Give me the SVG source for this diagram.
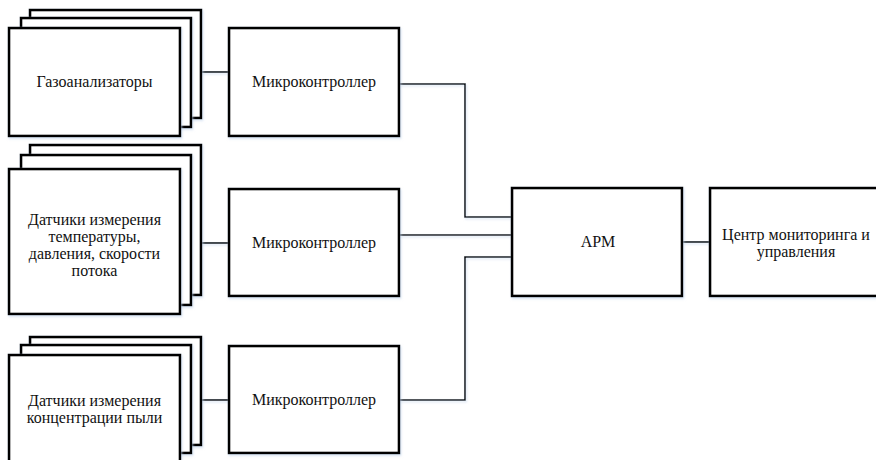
<svg xmlns="http://www.w3.org/2000/svg" width="876" height="460" viewBox="0 0 876 460">
<defs>
<filter id="sh" filterUnits="userSpaceOnUse" x="0" y="0" width="876" height="460">
<feDropShadow dx="1" dy="1.5" stdDeviation="1" flood-color="#b9cfe8" flood-opacity="0.6"/>
</filter>
<style>
.box{fill:#fff;stroke:#000;stroke-width:2.6;filter:url(#sh)}
.ln{fill:none;stroke:#000;stroke-width:1.6;filter:url(#sh)}
.t{font-size:16px;fill:#111;text-anchor:middle}
</style>
</defs>
<rect width="876" height="460" fill="#fff"/>
<g id="connectors">
<path class="ln" d="M201,72H229"/>
<path class="ln" d="M201,243H229"/>
<path class="ln" d="M201,400H229"/>
<path class="ln" d="M399,84H465V217H512"/>
<path class="ln" d="M399,235H512"/>
<path class="ln" d="M399,400H465V257H512"/>
<path class="ln" d="M682,242H710"/>
</g>
<g font-family="Liberation Serif, Times New Roman, serif">
<g id="gas">
<rect class="box" x="30" y="10" width="171" height="108"/>
<rect class="box" x="21" y="18" width="170" height="109"/>
<rect class="box" x="9" y="28" width="171" height="108"/>
<text class="t" x="94.5" y="87">Газоанализаторы</text>
</g>
<g id="temp">
<rect class="box" x="30" y="145" width="171" height="150"/>
<rect class="box" x="21" y="155" width="170" height="150"/>
<rect class="box" x="9" y="169" width="171" height="145"/>
<text class="t" x="94.5" y="225">Датчики измерения</text>
<text class="t" x="94.5" y="242">температуры,</text>
<text class="t" x="94.5" y="259">давления, скорости</text>
<text class="t" x="94.5" y="276">потока</text>
</g>
<g id="dust">
<rect class="box" x="30" y="337" width="171" height="108"/>
<rect class="box" x="21" y="345" width="170" height="108"/>
<rect class="box" x="9" y="355" width="171" height="115"/>
<text class="t" x="94.5" y="406">Датчики измерения</text>
<text class="t" x="94.5" y="423">концентрации пыли</text>
</g>
<g id="mc1">
<rect class="box" x="229" y="28" width="170" height="108"/>
<text class="t" x="314" y="87">Микроконтроллер</text>
</g>
<g id="mc2">
<rect class="box" x="229" y="189" width="170" height="107"/>
<text class="t" x="314" y="248">Микроконтроллер</text>
</g>
<g id="mc3">
<rect class="box" x="229" y="346" width="170" height="107"/>
<text class="t" x="314" y="405">Микроконтроллер</text>
</g>
<g id="arm">
<rect class="box" x="512" y="188" width="170" height="108"/>
<text class="t" x="598" y="247">АРМ</text>
</g>
<g id="center">
<rect class="box" x="710" y="188" width="175" height="108"/>
<text class="t" x="796" y="240">Центр мониторинга и</text>
<text class="t" x="796" y="257">управления</text>
</g>
</g>
</svg>
